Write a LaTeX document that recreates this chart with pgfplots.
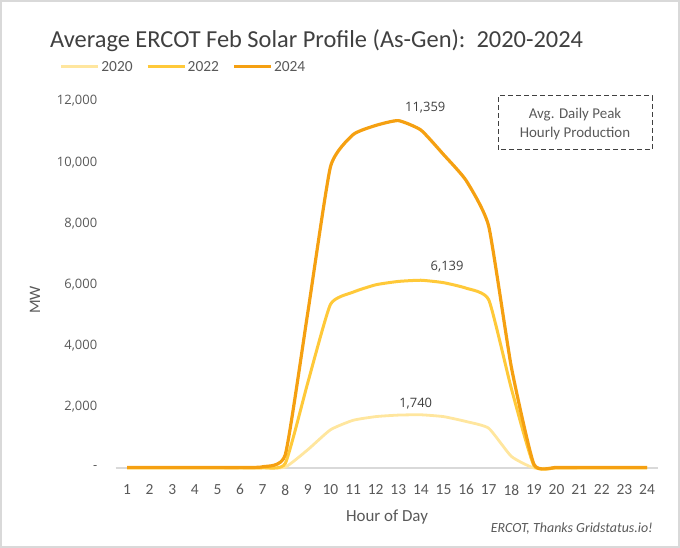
\documentclass[border=0pt]{standalone}
\usepackage{pgfplots}
\pgfplotsset{compat=1.18}
\usepackage{fontspec}
\setmainfont{Carlito}
\newfontfamily\numfont{Open Sans}
\definecolor{c20}{HTML}{FFE69E}
\definecolor{c22}{HTML}{FFC939}
\definecolor{c24}{HTML}{F5A011}
\definecolor{txt}{HTML}{404040}
\definecolor{sub}{HTML}{595959}
\definecolor{grid}{HTML}{D9D9D9}
\begin{document}
\begin{tikzpicture}
\path[use as bounding box] (0bp,0bp) rectangle (680bp,548bp);
\draw[grid, line width=1.2bp] (1bp,1bp) rectangle (679bp,547bp);
\node[anchor=base west, text=txt, font=\fontsize{24.5}{28}\selectfont, inner sep=0pt] at (50bp,500bp) {Average ERCOT Feb Solar Profile (As-Gen):\ \ 2020-2024};
\begin{axis}[
  at={(115.7bp,80bp)}, anchor=south west,
  scale only axis, width=542.6bp, height=367bp,
  xmin=0.5, xmax=24.5, ymin=0, ymax=12000,
  clip=false, scaled y ticks=false,
  /pgf/number format/assume math mode=true,
  axis x line*=bottom, axis y line*=left,
  x axis line style={grid, line width=1.2bp, -},
  y axis line style={draw=none},
  xtick={1,...,24}, xtick style={draw=none},
  ytick={0,2000,...,12000}, ytick style={draw=none},
  yticklabels={{-},{2,000},{4,000},{6,000},{8,000},{10,000},{12,000}},
  y tick label style={font=\numfont\fontsize{13}{15}\selectfont, text=sub, xshift=-15bp},
  x tick label style={font=\fontsize{15.5}{18}\selectfont, text=sub, yshift=-13bp},
  xlabel={Hour of Day},
  xlabel style={font=\fontsize{17}{20}\selectfont, text=sub, yshift=-8bp},
  ylabel={MW},
  ylabel style={font=\fontsize{16}{19}\selectfont, text=sub, at={(-80.7bp,168bp)}, anchor=center},
  legend style={at={(-56bp,401bp)}, anchor=west, draw=none, fill=none, inner sep=0pt,
    nodes={inner sep=1.5bp},
    font=\fontsize{15.5}{18}\selectfont, text=sub, legend columns=3,
    /tikz/every even column/.append style={column sep=12bp}},
  legend image code/.code={\draw[#1, line width=3bp] (0bp,0bp) -- (37bp,0bp);},
]
\addplot[c20, line width=2.8bp, smooth, tension=0.3] coordinates {
(1,0)(2,0)(3,0)(4,0)(5,0)(6,0)(7,0)(8,30)(9,600)(10,1250)(11,1560)(12,1680)
(13,1730)(14,1740)(15,1680)(16,1520)(17,1300)(18,380)(19,0)(20,0)(21,0)(22,0)(23,0)(24,0)};
\addlegendentry{2020}
\addplot[c22, line width=3bp, smooth, tension=0.3] coordinates {
(1,5)(2,5)(3,5)(4,5)(5,5)(6,5)(7,10)(8,150)(9,2800)(10,5350)(11,5750)(12,5990)
(13,6100)(14,6139)(15,6060)(16,5880)(17,5500)(18,2600)(19,80)(20,5)(21,5)(22,5)(23,5)(24,5)};
\addlegendentry{2022}
\addplot[c24, line width=3.2bp, smooth, tension=0.3] coordinates {
(1,20)(2,20)(3,20)(4,20)(5,20)(6,20)(7,40)(8,430)(9,5100)(10,9850)(11,10900)(12,11200)
(13,11359)(14,11050)(15,10250)(16,9400)(17,7900)(18,3300)(19,120)(20,20)(21,20)(22,20)(23,20)(24,20)};
\addlegendentry{2024}
\node[text=txt, font=\numfont\fontsize{13}{15}\selectfont] at (axis cs:14.19,11794) {11,359};
\node[text=txt, font=\numfont\fontsize{13}{15}\selectfont] at (axis cs:15.16,6582) {6,139};
\node[text=txt, font=\numfont\fontsize{13}{15}\selectfont] at (axis cs:13.77,2102) {1,740};
\end{axis}
\draw[txt, dash pattern=on 5bp off 3bp, line width=1bp] (498bp,398bp) rectangle (652bp,452bp);
\node[text=sub, font=\fontsize{15}{19}\selectfont, align=center] at (575bp,424bp) {Avg. Daily Peak\\Hourly Production};
\node[anchor=base east, text=sub, font=\itshape\fontsize{14}{17}\selectfont, inner sep=0pt] at (653bp,16bp) {ERCOT, Thanks Gridstatus.io!};
\end{tikzpicture}
\end{document}
